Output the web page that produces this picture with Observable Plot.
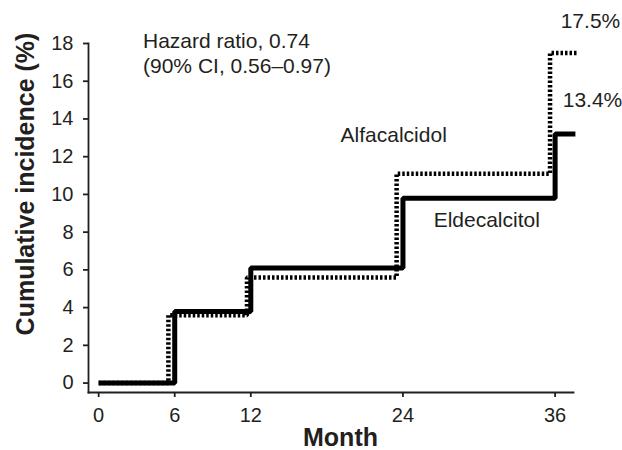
<!DOCTYPE html>
<html>
<head>
<meta charset="utf-8">
<script src="https://cdn.jsdelivr.net/npm/d3@7"></script>
<script src="https://cdn.jsdelivr.net/npm/@observablehq/plot@0.6"></script>
<style>
  html, body { margin: 0; padding: 0; background: #fff; }
</style>
</head>
<body>
<div id="chart"></div>
<script>
// Eldecalcitol (solid)
const eldMonth = [0, 6, 12, 24, 36, 37.6];
const eldPct   = [0, 3.8, 6.1, 9.8, 13.2, 13.2];
// Alfacalcidol (dotted)
const alfMonth = [0, 5.5, 11.7, 23.5, 35.6, 37.8];
const alfPct   = [0, 3.6, 5.6, 11.1, 17.5, 17.5];

const xTicks = [0, 6, 12, 24, 36];
const yTicks = [0, 2, 4, 6, 8, 10, 12, 14, 16, 18];

const noteText  = ["Hazard ratio, 0.74", "(90% CI, 0.56\u20130.97)", "Alfacalcidol", "Eldecalcitol", "17.5%", "13.4%"];
const noteMonth = [3.5, 3.5, 19.08, 26.42, 36.44, 36.6];
const notePct   = [18.1, 16.78, 13.12, 8.61, 19.16, 14.97];

const eld = eldMonth.map((m, i) => ({month: m, pct: eldPct[i]}));
const alf = alfMonth.map((m, i) => ({month: m, pct: alfPct[i]}));
const notes = noteText.map((t, i) => ({text: t, month: noteMonth[i], pct: notePct[i]}));

const ink = "#231f20";

const chart = Plot.plot({
  width: 622,
  height: 450,
  marginLeft: 88,
  marginRight: 49,
  marginTop: 43,
  marginBottom: 58,
  x: {domain: [-0.8, 37.45]},
  y: {domain: [-0.5, 18]},
  style: {fontFamily: "'Liberation Sans', Arial, sans-serif", fontSize: "20px", color: ink, background: "white", overflow: "visible"},
  marks: [
    Plot.frame({anchor: "left", stroke: ink, strokeWidth: 1.8}),
    Plot.frame({anchor: "bottom", stroke: ink, strokeWidth: 1.8}),
    Plot.axisY({ticks: yTicks, tickSize: 5, tickPadding: 10, label: null, strokeWidth: 1.8, fontSize: 20}),
    Plot.axisX({ticks: xTicks, tickSize: 5, tickPadding: 10, label: null, strokeWidth: 1.8, fontSize: 20}),
    Plot.line(alf, {x: "month", y: "pct", curve: "step-after", stroke: "#000", strokeWidth: 4.5, strokeDasharray: "2.5,2", strokeLinecap: "butt", strokeLinejoin: "miter"}),
    Plot.line(eld, {x: "month", y: "pct", curve: "step-after", stroke: "#000", strokeWidth: 5, strokeLinecap: "butt", strokeLinejoin: "miter"}),
    Plot.text(notes, {x: "month", y: "pct", text: "text", textAnchor: "start", fontSize: 21, fill: ink}),
    Plot.text(["Month"], {frameAnchor: "bottom", textAnchor: "middle", lineAnchor: "middle", dx: 9.5, dy: 45, fontSize: 25, fontWeight: "bold", fill: ink}),
    Plot.text(["Cumulative incidence (%)"], {frameAnchor: "left", textAnchor: "middle", lineAnchor: "middle", rotate: -90, dx: -63, dy: -34, fontSize: 25, fontWeight: "bold", fill: ink})
  ]
});
document.getElementById("chart").appendChild(chart);
</script>
</body>
</html>
